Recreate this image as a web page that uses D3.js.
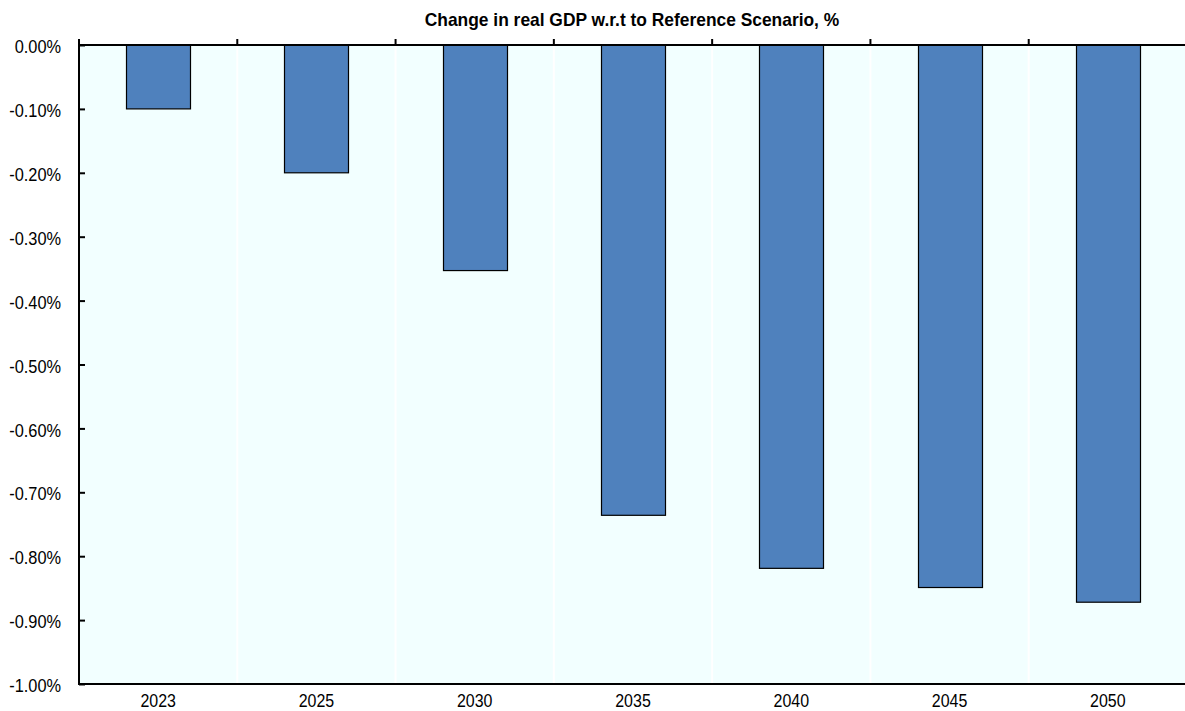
<!DOCTYPE html>
<html>
<head>
<meta charset="utf-8">
<script src="https://cdn.jsdelivr.net/npm/d3@7"></script>
<style>
  html, body { margin: 0; padding: 0; background: #ffffff; }
  svg { display: block; }
  text { font-family: "Liberation Sans", Arial, sans-serif; }
</style>
</head>
<body>
<svg id="chart" width="1185" height="711"></svg>
<script>
const title = "Change in real GDP w.r.t to Reference Scenario, %";
const categories = ["2023", "2025", "2030", "2035", "2040", "2045", "2050"];
const values = [-0.10, -0.20, -0.353, -0.736, -0.819, -0.849, -0.872];
const yTicks = [0, -0.1, -0.2, -0.3, -0.4, -0.5, -0.6, -0.7, -0.8, -0.9, -1.0];

const svg = d3.select("#chart");
const pL = 79, pR = 1187, pT = 45, pB = 684;

const x = d3.scaleBand().domain(categories).range([pL, pR]).paddingInner(0.595).paddingOuter(0.2975);
const xOuter = d3.scaleBand().domain(categories).range([pL, pR]);
const y = d3.scaleLinear().domain([-1, 0]).range([pB, pT]);

const fmt = d3.formatLocale({ decimal: ".", thousands: ",", grouping: [3], currency: ["", ""], minus: "-" }).format(".2f");

function condense(sel, f) {
  sel.each(function() {
    const w = this.getComputedTextLength();
    d3.select(this).attr("textLength", w * f).attr("lengthAdjust", "spacingAndGlyphs");
  });
}

// plot background
svg.append("rect")
  .attr("x", pL).attr("y", pT).attr("width", pR - pL).attr("height", pB - pT)
  .attr("fill", "#F2FFFF");

// faint white separators at category boundaries
svg.append("g").selectAll("line")
  .data(categories.slice(1))
  .join("line")
  .attr("x1", d => xOuter(d)).attr("x2", d => xOuter(d))
  .attr("y1", pT).attr("y2", pB)
  .attr("stroke", "#ffffff").attr("stroke-width", 2);

// bars
svg.append("g").selectAll("rect")
  .data(categories.map((c, i) => ({ c, v: values[i] })))
  .join("rect")
  .attr("x", d => Math.round(x(d.c)) + 0.5)
  .attr("y", y(0))
  .attr("width", Math.round(x.bandwidth()))
  .attr("height", d => y(d.v) - y(0))
  .attr("fill", "#4F81BD")
  .attr("stroke", "#000000")
  .attr("stroke-width", 1.2);

// left axis
const yAxis = d3.axisLeft(y).tickValues(yTicks).tickSize(-6).tickPadding(18)
  .tickFormat(d => (d === 0 ? "0.00" : fmt(d)) + "%");
const gy = svg.append("g").attr("transform", `translate(${pL},0)`).call(yAxis);
gy.select(".domain").remove();
gy.selectAll(".tick line").attr("stroke", "#000").attr("stroke-width", 2);
gy.selectAll(".tick text").attr("font-size", 19).attr("fill", "#000").attr("dy", "0.4em")
  .call(condense, 0.86);
svg.append("line").attr("x1", pL).attr("x2", pL).attr("y1", pT - 6).attr("y2", pB + 1)
  .attr("stroke", "#000").attr("stroke-width", 2);

// top axis line (at zero) with upward ticks at category boundaries
svg.append("line").attr("x1", pL).attr("x2", pR).attr("y1", y(0)).attr("y2", y(0))
  .attr("stroke", "#000").attr("stroke-width", 2);
svg.append("g").selectAll("line")
  .data(categories.slice(1))
  .join("line")
  .attr("x1", d => xOuter(d)).attr("x2", d => xOuter(d))
  .attr("y1", y(0) - 6).attr("y2", y(0))
  .attr("stroke", "#000").attr("stroke-width", 2);

// bottom axis
const xAxis = d3.axisBottom(xOuter).tickSize(0).tickPadding(10);
const gx = svg.append("g").attr("transform", `translate(0,${pB})`).call(xAxis);
gx.select(".domain").attr("stroke", "#000").attr("stroke-width", 2)
  .attr("d", `M${pL},0H${pR}`);
gx.selectAll(".tick text").attr("font-size", 19).attr("fill", "#000").attr("dy", "0.71em")
  .call(condense, 0.84);

// title
svg.append("text")
  .attr("x", 632).attr("y", 26)
  .attr("text-anchor", "middle")
  .attr("font-size", 19).attr("font-weight", "bold").attr("fill", "#000")
  .text(title)
  .call(condense, 0.915);
</script>
</body>
</html>
